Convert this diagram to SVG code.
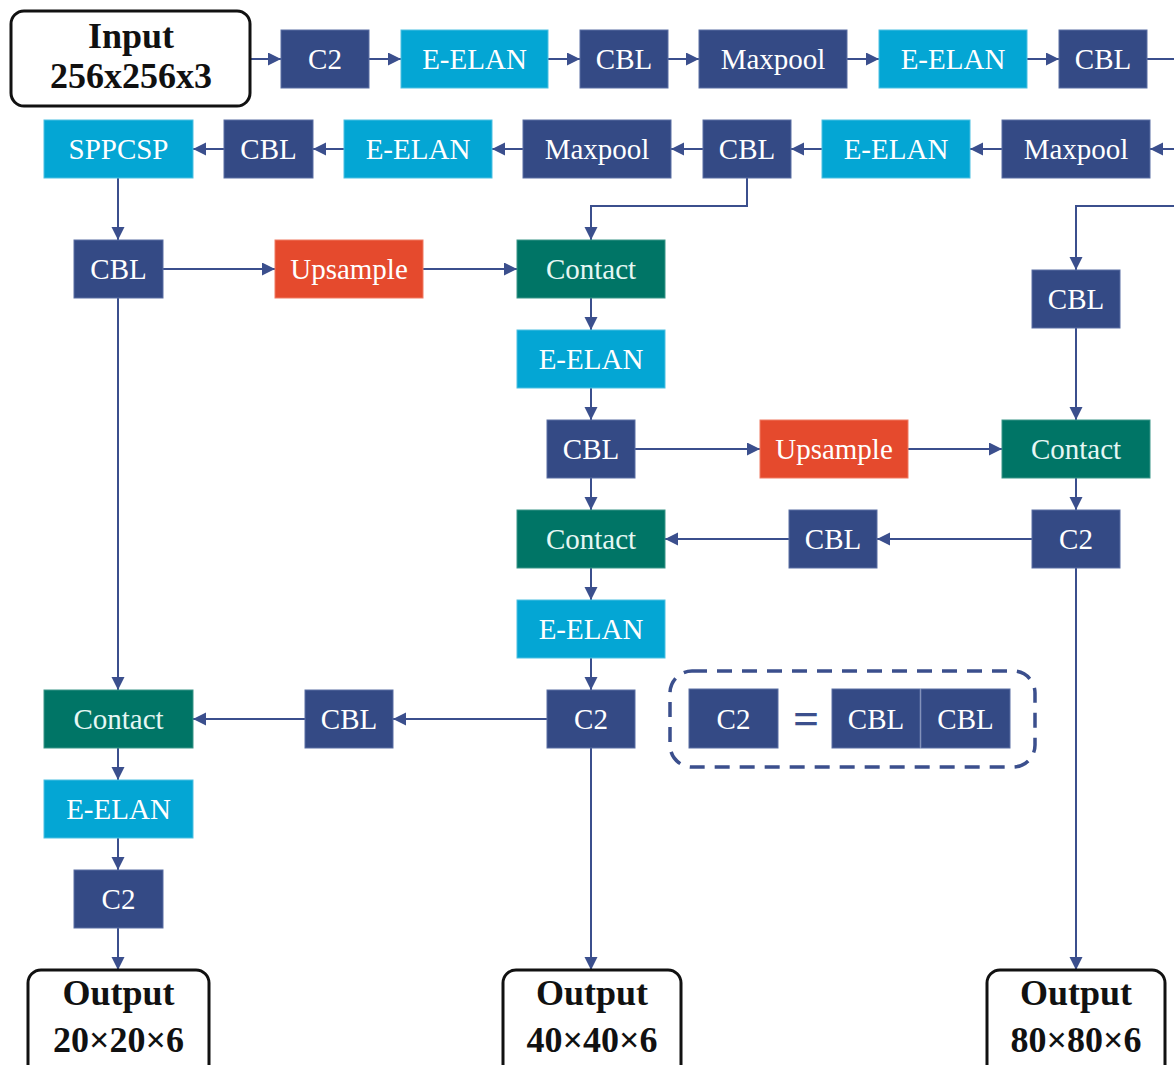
<svg xmlns="http://www.w3.org/2000/svg" width="1174" height="1065" viewBox="0 0 1174 1065">
  <style>
    .n rect { stroke-width: 1; }
    .dk { fill: #344a85; stroke: #5a6fa3; }
    .lt { fill: #04a6d4; stroke: #4cc0e2; }
    .or { fill: #e54a2d; stroke: #f07a63; }
    .tl { fill: #007566; stroke: #3a9688; }
    .n text { font-family: "Liberation Serif", "Times New Roman", serif; font-size: 29px; fill: #ffffff; text-anchor: middle; }
    .tl + text { fill: #e6f7f4; }
    .io rect { fill: #ffffff; stroke: #111111; stroke-width: 3; }
    .io text { font-family: "Liberation Serif", "Times New Roman", serif; font-size: 36px; font-weight: bold; fill: #111111; text-anchor: middle; }
    .c path { fill: none; stroke: #3b4f8d; stroke-width: 2; }
    .c path.a { marker-end: url(#ah); }
  </style>
  <defs>
    <marker id="ah" markerUnits="userSpaceOnUse" markerWidth="15" markerHeight="15" refX="13" refY="6.5" orient="auto">
      <path d="M0,0 L13,6.5 L0,13 z" fill="#3b4f8d"/>
    </marker>
  </defs>

  <rect width="1174" height="1065" fill="#ffffff"/>

  <!-- connectors -->
  <g id="connectors" class="c">
    <!-- backbone row 1 -->
    <path class="a" d="M251,59 H281"/>
    <path class="a" d="M369,59 H401"/>
    <path class="a" d="M548,59 H580"/>
    <path class="a" d="M668,59 H699"/>
    <path class="a" d="M847,59 H879"/>
    <path class="a" d="M1027,59 H1059"/>
    <path d="M1147,59 H1174"/>
    <!-- backbone row 2 -->
    <path class="a" d="M1174,149 H1150"/>
    <path class="a" d="M1002,149 H970"/>
    <path class="a" d="M822,149 H791"/>
    <path class="a" d="M703,149 H671"/>
    <path class="a" d="M523,149 H492"/>
    <path class="a" d="M344,149 H313"/>
    <path class="a" d="M224,149 H193"/>
    <!-- branch taps -->
    <path class="a" d="M1174,206 H1076 V270"/>
    <path class="a" d="M747,178 V206 H591 V240"/>
    <path class="a" d="M118,178 V240"/>
    <!-- top-down path -->
    <path class="a" d="M163,269 H275"/>
    <path class="a" d="M423,269 H517"/>
    <path class="a" d="M591,298 V330"/>
    <path class="a" d="M591,388 V420"/>
    <path class="a" d="M635,449 H760"/>
    <path class="a" d="M908,449 H1002"/>
    <path class="a" d="M1076,328 V420"/>
    <path class="a" d="M1076,478 V510"/>
    <path class="a" d="M591,478 V510"/>
    <!-- bottom-up path -->
    <path class="a" d="M1032,539 H877"/>
    <path class="a" d="M789,539 H665"/>
    <path class="a" d="M591,568 V600"/>
    <path class="a" d="M591,658 V690"/>
    <path class="a" d="M547,719 H393"/>
    <path class="a" d="M305,719 H193"/>
    <path class="a" d="M118,298 V690"/>
    <path class="a" d="M118,748 V780"/>
    <path class="a" d="M118,838 V870"/>
    <!-- heads -->
    <path class="a" d="M118,928 V970"/>
    <path class="a" d="M591,748 V970"/>
    <path class="a" d="M1076,568 V970"/>
  </g>

  <!-- input -->
  <g id="input" class="io">
    <rect x="11" y="11" width="239" height="95" rx="13"/>
    <text x="131" y="48">Input</text>
    <text x="131" y="88">256x256x3</text>
  </g>

  <!-- backbone row 1 -->
  <g id="b1-c2" class="n"><rect class="dk" x="281" y="30" width="88" height="58"/><text x="325" y="69">C2</text></g>
  <g id="b1-elan1" class="n"><rect class="lt" x="401" y="30" width="147" height="58"/><text x="474.5" y="69">E-ELAN</text></g>
  <g id="b1-cbl1" class="n"><rect class="dk" x="580" y="30" width="88" height="58"/><text x="624" y="69">CBL</text></g>
  <g id="b1-maxpool" class="n"><rect class="dk" x="699" y="30" width="148" height="58"/><text x="773" y="69">Maxpool</text></g>
  <g id="b1-elan2" class="n"><rect class="lt" x="879" y="30" width="148" height="58"/><text x="953" y="69">E-ELAN</text></g>
  <g id="b1-cbl2" class="n"><rect class="dk" x="1059" y="30" width="88" height="58"/><text x="1103" y="69">CBL</text></g>

  <!-- backbone row 2 -->
  <g id="b2-maxpool1" class="n"><rect class="dk" x="1002" y="120" width="148" height="58"/><text x="1076" y="159">Maxpool</text></g>
  <g id="b2-elan1" class="n"><rect class="lt" x="822" y="120" width="148" height="58"/><text x="896" y="159">E-ELAN</text></g>
  <g id="b2-cbl1" class="n"><rect class="dk" x="703" y="120" width="88" height="58"/><text x="747" y="159">CBL</text></g>
  <g id="b2-maxpool2" class="n"><rect class="dk" x="523" y="120" width="148" height="58"/><text x="597" y="159">Maxpool</text></g>
  <g id="b2-elan2" class="n"><rect class="lt" x="344" y="120" width="148" height="58"/><text x="418" y="159">E-ELAN</text></g>
  <g id="b2-cbl2" class="n"><rect class="dk" x="224" y="120" width="89" height="58"/><text x="268.5" y="159">CBL</text></g>
  <g id="sppcsp" class="n"><rect class="lt" x="44" y="120" width="149" height="58"/><text x="118.5" y="159">SPPCSP</text></g>

  <!-- left column -->
  <g id="l-cbl" class="n"><rect class="dk" x="74" y="240" width="89" height="58"/><text x="118.5" y="279">CBL</text></g>
  <g id="l-upsample" class="n"><rect class="or" x="275" y="240" width="148" height="58"/><text x="349" y="279">Upsample</text></g>
  <g id="l-contact" class="n"><rect class="tl" x="44" y="690" width="149" height="58"/><text x="118.5" y="729">Contact</text></g>
  <g id="l-elan" class="n"><rect class="lt" x="44" y="780" width="149" height="58"/><text x="118.5" y="819">E-ELAN</text></g>
  <g id="l-c2" class="n"><rect class="dk" x="74" y="870" width="89" height="58"/><text x="118.5" y="909">C2</text></g>
  <g id="l-cbl2" class="n"><rect class="dk" x="305" y="690" width="88" height="58"/><text x="349" y="729">CBL</text></g>

  <!-- middle column -->
  <g id="m-contact1" class="n"><rect class="tl" x="517" y="240" width="148" height="58"/><text x="591" y="279">Contact</text></g>
  <g id="m-elan1" class="n"><rect class="lt" x="517" y="330" width="148" height="58"/><text x="591" y="369">E-ELAN</text></g>
  <g id="m-cbl1" class="n"><rect class="dk" x="547" y="420" width="88" height="58"/><text x="591" y="459">CBL</text></g>
  <g id="m-contact2" class="n"><rect class="tl" x="517" y="510" width="148" height="58"/><text x="591" y="549">Contact</text></g>
  <g id="m-elan2" class="n"><rect class="lt" x="517" y="600" width="148" height="58"/><text x="591" y="639">E-ELAN</text></g>
  <g id="m-c2" class="n"><rect class="dk" x="547" y="690" width="88" height="58"/><text x="591" y="729">C2</text></g>
  <g id="m-upsample" class="n"><rect class="or" x="760" y="420" width="148" height="58"/><text x="834" y="459">Upsample</text></g>
  <g id="m-cbl2" class="n"><rect class="dk" x="789" y="510" width="88" height="58"/><text x="833" y="549">CBL</text></g>

  <!-- right column -->
  <g id="r-cbl" class="n"><rect class="dk" x="1032" y="270" width="88" height="58"/><text x="1076" y="309">CBL</text></g>
  <g id="r-contact" class="n"><rect class="tl" x="1002" y="420" width="148" height="58"/><text x="1076" y="459">Contact</text></g>
  <g id="r-c2" class="n"><rect class="dk" x="1032" y="510" width="88" height="58"/><text x="1076" y="549">C2</text></g>

  <!-- legend: C2 = CBL CBL -->
  <g id="legend">
    <rect x="670" y="671" width="365" height="96" rx="22" fill="none" stroke="#3b4f8d" stroke-width="3.5" stroke-dasharray="15 10"/>
    <g class="n"><rect class="dk" x="689" y="689" width="89" height="59"/><text x="733.5" y="729">C2</text></g>
    <text x="806" y="734" font-family="Liberation Serif, serif" font-size="46" font-weight="bold" fill="#3b4f8d" text-anchor="middle">=</text>
    <g class="n"><rect class="dk" x="832" y="689" width="88" height="59"/><text x="876" y="729">CBL</text></g>
    <g class="n"><rect class="dk" x="921" y="689" width="89" height="59"/><text x="965.5" y="729">CBL</text></g>
  </g>

  <!-- outputs -->
  <g id="out-20" class="io">
    <rect x="28" y="970" width="181" height="110" rx="13"/>
    <text x="118.5" y="1005">Output</text>
    <text x="118.5" y="1052">20×20×6</text>
  </g>
  <g id="out-40" class="io">
    <rect x="503" y="970" width="178" height="110" rx="13"/>
    <text x="592" y="1005">Output</text>
    <text x="592" y="1052">40×40×6</text>
  </g>
  <g id="out-80" class="io">
    <rect x="987" y="970" width="178" height="110" rx="13"/>
    <text x="1076" y="1005">Output</text>
    <text x="1076" y="1052">80×80×6</text>
  </g>
</svg>
